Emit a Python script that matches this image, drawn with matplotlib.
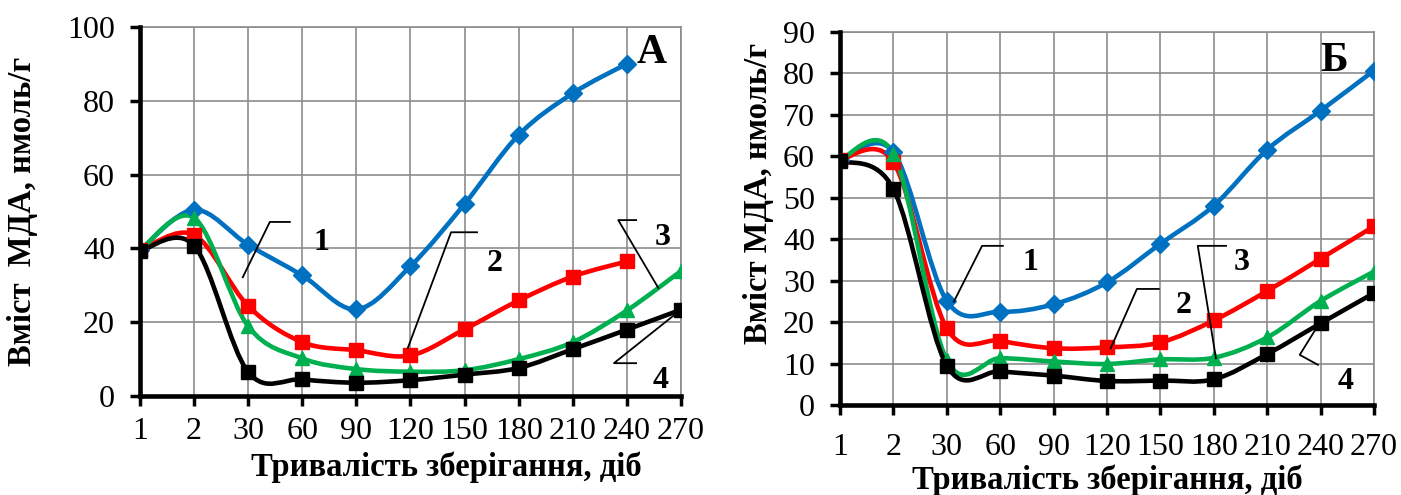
import numpy as np
import matplotlib
matplotlib.use("Agg")
import matplotlib.pyplot as plt
from matplotlib.path import Path
from matplotlib.patches import PathPatch

plt.rcParams['font.family'] = ['Liberation Serif', 'DejaVu Serif']

# ---------------- data ----------------
days = ['1', '2', '30', '60', '90', '120', '150', '180', '210', '240', '270']

# Panel A
a_s1 = [39.5, 50.5, 41.0, 32.7, 23.5, 35.2, 52.1, 70.8, 82.1, 90.1, np.nan]
a_s2 = [39.5, 43.7, 24.4, 14.6, 12.4, 11.0, 18.1, 25.9, 32.4, 36.5, np.nan]
a_s3 = [39.5, 48.3, 18.9, 10.2, 7.3, 6.6, 7.0, 10.0, 14.6, 23.2, 33.9]
a_s4 = [39.3, 40.8, 6.5, 4.5, 3.6, 4.3, 5.8, 7.6, 12.7, 18.0, 23.4]

# Panel Б
b_s1 = [59.2, 61.0, 25.1, 22.5, 24.3, 29.6, 38.9, 48.1, 61.6, 71.0, 80.7]
b_s2 = [59.2, 58.6, 18.5, 15.5, 13.7, 13.9, 15.1, 20.4, 27.5, 35.3, 43.1]
b_s3 = [59.2, 60.6, 10.8, 11.3, 10.5, 9.9, 11.0, 11.4, 16.3, 25.1, 32.2]
b_s4 = [58.9, 52.1, 9.5, 8.1, 7.1, 5.8, 5.9, 6.2, 12.3, 19.7, 27.0]

COLORS = ['#0070C0', '#FF0000', '#00B050', '#000000']
MARKERS = ['D', 's', '^', 's']
MSIZES = [9.5, 10.5, 10.5, 10.5]

# callout labels: (text, text position, leader line points) in data units
A_LABELS = [
    ('1', (3.35, 41.5), [(1.90, 32.2), (2.40, 47.2), (2.77, 47.2)]),
    ('2', (6.56, 36.0), [(4.95, 13.0), (5.75, 44.4), (6.23, 44.4)]),
    ('3', (9.67, 43.1), [(9.58, 29.3), (8.84, 47.7), (9.17, 47.7)]),
    ('4', (9.63, 4.3), [(9.87, 21.9), (8.76, 8.9), (9.17, 8.9)]),
]
B_LABELS = [
    ('1', (3.56, 34.5), [(2.13, 24.9), (2.66, 38.4), (3.05, 38.4)]),
    ('2', (6.44, 24.1), [(5.07, 13.7), (5.56, 28.0), (5.97, 28.0)]),
    ('3', (7.53, 34.5), [(7.04, 11.3), (6.70, 38.4), (7.23, 38.4)]),
    ('4', (9.46, 5.6), [(8.99, 20.0), (8.61, 12.1), (8.95, 9.7)]),
]


def smooth_path(xs, ys):
    """Excel-like smoothed line as a cubic bezier path"""
    pts = [(x, y) for x, y in zip(xs, ys) if not np.isnan(y)]
    pts = np.array(pts, dtype=float)
    n = len(pts)
    verts = [pts[0]]
    codes = [Path.MOVETO]
    for i in range(n - 1):
        p0 = pts[max(i - 1, 0)]
        p1 = pts[i]
        p2 = pts[i + 1]
        p3 = pts[min(i + 2, n - 1)]
        c1 = p1 + (p2 - p0) / 6.0
        c2 = p2 - (p3 - p1) / 6.0
        verts += [c1, c2, p2]
        codes += [Path.CURVE4] * 3
    return Path(verts, codes)


def draw_panel(ax, series, ymax, ystep, letter, letter_pos, labels, ylabel,
               xlab_pos, ylab_pos, xpad):
    x = np.arange(len(days))
    for vals, col, mk, ms in zip(series, COLORS, MARKERS, MSIZES):
        ax.add_patch(PathPatch(smooth_path(x, vals), fill=False,
                               edgecolor=col, lw=3.3, capstyle='round',
                               joinstyle='round', zorder=3))
        ax.plot(x, vals, linestyle='none', marker=mk, markersize=ms,
                color=col, zorder=4)

    ax.set_xlim(0, len(days) - 1)
    ax.set_ylim(0, ymax)
    ax.set_xticks(x)
    ax.set_xticklabels(days)
    ax.set_yticks(np.arange(0, ymax + 1, ystep))
    ax.grid(True, color='#8c8c8c', lw=1.2, zorder=0)
    ax.set_axisbelow(True)

    for side in ['top', 'right']:
        ax.spines[side].set_color('#8c8c8c')
        ax.spines[side].set_linewidth(1.2)
    for side in ['left', 'bottom']:
        ax.spines[side].set_linewidth(3.3)
        ax.spines[side].set_zorder(5)

    ax.tick_params(axis='both', direction='out', length=7, width=2.5,
                   labelsize=23)
    ax.tick_params(axis='x', pad=xpad)
    ax.tick_params(axis='y', pad=11)

    ax.set_xlabel('Тривалість зберігання, діб', fontsize=23.5,
                  fontweight='bold')
    ax.set_ylabel(ylabel, fontsize=23.5, fontweight='bold')
    ax.xaxis.set_label_coords(*xlab_pos)
    ax.xaxis.label.set_va('center')
    ax.yaxis.set_label_coords(*ylab_pos)
    ax.yaxis.label.set_va('center')

    ax.text(letter_pos[0], letter_pos[1], letter, fontsize=30,
            fontweight='bold', ha='center', va='center', zorder=6)

    for txt, tpos, line in labels:
        lx, ly = zip(*line)
        ax.plot(lx, ly, color='black', lw=1.3, zorder=6)
        ax.text(tpos[0], tpos[1], txt, fontsize=23, fontweight='bold',
                ha='center', va='center', zorder=6)


fig = plt.figure(figsize=(14.01, 4.95), dpi=100)
ax1 = fig.add_axes([0.0999, 0.2, 0.3862, 0.745])
ax2 = fig.add_axes([0.5996, 0.1818, 0.3811, 0.7536])

draw_panel(ax1, [a_s1, a_s2, a_s3, a_s4], 100, 20, 'А', (9.46, 93),
           A_LABELS, 'Вміст  МДА, нмоль/г',
           (0.567, -0.192), (-0.218, 0.5), 8)
draw_panel(ax2, [b_s1, b_s2, b_s3, b_s4], 90, 10, 'Б', (9.25, 83),
           B_LABELS, 'Вміст МДА, нмоль/г',
           (0.5, -0.201), (-0.152, 0.568), 13)

fig.savefig('out.png', dpi=100)
